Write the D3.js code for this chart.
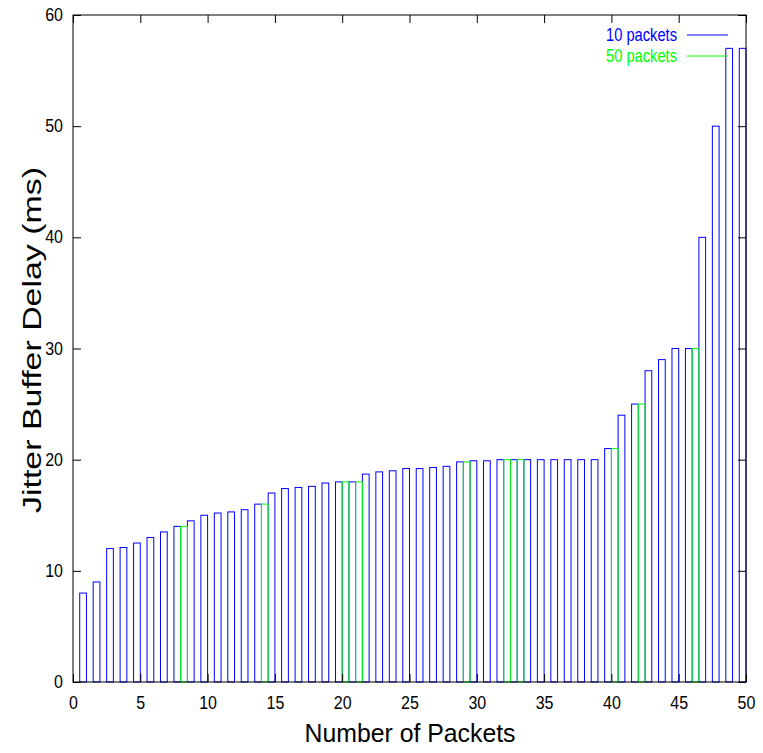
<!DOCTYPE html>
<html>
<head>
<meta charset="utf-8">
<script src="https://cdn.jsdelivr.net/npm/d3@7"></script>
<style>
  body { margin: 0; background: #fff; }
  svg text { font-family: "Liberation Sans Narrow", "Arial Narrow", "Liberation Sans", sans-serif; }
</style>
</head>
<body>
<svg id="chart"></svg>
<script>
// packet index (x) and the jitter buffer delay measured for each
const packets10 = [1, 2, 3, 4, 5, 6, 7, 8, 9, 10,
	11, 12, 13, 14, 15, 16, 17, 18, 19, 20,
	21, 22, 23, 24, 25, 26, 27, 28, 29, 30,
	31, 32, 33, 34, 35, 36, 37, 38, 39, 40,
	41, 42, 43, 44, 45, 46, 47, 48, 49, 50];
const delay10 = [8, 9, 12, 12.1, 12.5, 13, 13.5, 14, 14.5, 15,
	15.2, 15.3, 15.5, 16, 17, 17.4, 17.5, 17.6, 17.9, 18,
	18, 18.7, 18.9, 19, 19.2, 19.2, 19.3, 19.4, 19.8, 19.9,
	19.9, 20, 20, 20, 20, 20, 20, 20, 20, 21,
	24, 25, 28, 29, 30, 30, 40, 50, 57, 57];

const packets50 = [8, 14, 20, 21, 29, 32, 33, 40, 42, 46];
const delay50 = [14, 16, 18, 18, 19.8, 20, 20, 21, 25, 30];

const xTicks = [0, 5, 10, 15, 20, 25, 30, 35, 40, 45, 50];
const yTicks = [0, 10, 20, 30, 40, 50, 60];

const series = [
	{name: "10 packets", color: "#0000ff", xs: packets10, ys: delay10, offset: -0.5},
	{name: "50 packets", color: "#00ff00", xs: packets50, ys: delay50, offset: 0}
];

const svgWidth = 763;
const svgHeight = 753;
const margins = {top: 15, right: 17, bottom: 71, left: 73};
const boxWidth = 0.5;
const tickLen = 8;
const digitWidth = 8.9; // condensed look of the original tick labels

const scaleX = d3.scaleLinear()
	.domain([0, 50])
	.range([margins.left, svgWidth - margins.right]);

const scaleY = d3.scaleLinear()
	.domain([0, 60])
	.range([svgHeight - margins.bottom, margins.top]);

const chart = d3.select('#chart')
	.attr('width', svgWidth)
	.attr('height', svgHeight);

// Boxes: 10 packets sits left of each index, 50 packets to the right
series.forEach(s => {
	chart.append("g")
		.selectAll("rect")
		.data(s.xs.map((x, i) => ({x: x, y: s.ys[i]})))
		.join("rect")
		.attr("x", d => scaleX(d.x + s.offset))
		.attr("width", d => scaleX(d.x + s.offset + boxWidth) - scaleX(d.x + s.offset))
		.attr("y", d => scaleY(d.y))
		.attr("height", d => scaleY(0) - scaleY(d.y))
		.attr("fill", "none")
		.attr("stroke", s.color)
		.attr("stroke-width", 1);
});

const styleAxis = g => {
	g.select(".domain").remove();
	g.selectAll("line").attr("stroke", "#000");
	g.selectAll("text")
		.attr("font-size", 17.5)
		.attr("fill", "#000")
		.attr("font-family", null)
		.attr("textLength", function() { return this.textContent.length * digitWidth; })
		.attr("lengthAdjust", "spacingAndGlyphs");
};

// Bottom and left axes with inward ticks
chart.append("g")
	.attr("transform", `translate(0, ${scaleY(0)})`)
	.call(d3.axisBottom(scaleX).tickValues(xTicks).tickSizeInner(-tickLen).tickSizeOuter(0).tickPadding(15))
	.call(styleAxis);

chart.append("g")
	.attr("transform", `translate(${scaleX(0)}, 0)`)
	.call(d3.axisLeft(scaleY).tickValues(yTicks).tickSizeInner(-tickLen).tickSizeOuter(0).tickPadding(10))
	.call(styleAxis);

// Mirrored ticks on top and right
chart.append("g")
	.attr("transform", `translate(0, ${scaleY(60)})`)
	.call(d3.axisTop(scaleX).tickValues(xTicks).tickSizeInner(-tickLen).tickSizeOuter(0).tickFormat(""))
	.call(styleAxis);

chart.append("g")
	.attr("transform", `translate(${scaleX(50)}, 0)`)
	.call(d3.axisRight(scaleY).tickValues(yTicks).tickSizeInner(-tickLen).tickSizeOuter(0).tickFormat(""))
	.call(styleAxis);

// Frame
chart.append("rect")
	.attr("x", scaleX(0))
	.attr("y", scaleY(60))
	.attr("width", scaleX(50) - scaleX(0))
	.attr("height", scaleY(0) - scaleY(60))
	.attr("fill", "none")
	.attr("stroke", "#000")
	.attr("stroke-width", 1);

// Axis titles
chart.append("text")
	.attr("x", (scaleX(0) + scaleX(50)) / 2 + 0.5)
	.attr("y", 742)
	.attr("text-anchor", "middle")
	.attr("font-size", 26)
	.attr("textLength", 211)
	.attr("lengthAdjust", "spacingAndGlyphs")
	.text("Number of Packets");

chart.append("text")
	.attr("transform", `translate(41, 340) rotate(-90)`)
	.attr("text-anchor", "middle")
	.style("font-family", "'Liberation Sans', Arial, sans-serif")
	.attr("font-size", 26)
	.attr("textLength", 346)
	.attr("lengthAdjust", "spacingAndGlyphs")
	.text("Jitter Buffer Delay (ms)");

// Legend, top right inside the frame
const legend = chart.append("g")
	.selectAll("g")
	.data(series)
	.join("g")
	.attr("transform", (d, i) => `translate(${scaleX(50) - 18}, ${scaleY(60) + 20 + i * 21})`);

legend.append("line")
	.attr("x1", -41)
	.attr("x2", 0)
	.attr("stroke", d => d.color)
	.attr("stroke-width", 1);

legend.append("text")
	.attr("x", -51)
	.attr("dy", "0.36em")
	.attr("text-anchor", "end")
	.attr("font-size", 18)
	.attr("textLength", 71)
	.attr("lengthAdjust", "spacingAndGlyphs")
	.attr("fill", d => d.color)
	.text(d => d.name);
</script>
</body>
</html>
